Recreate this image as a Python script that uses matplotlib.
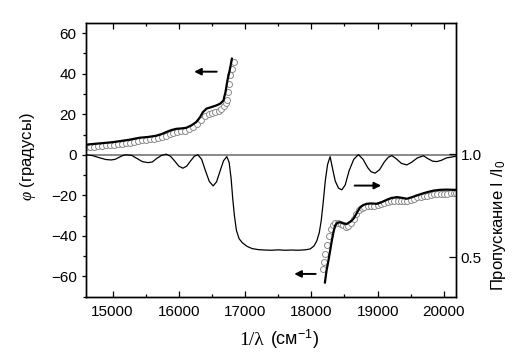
import matplotlib
matplotlib.use("Agg")
import matplotlib.pyplot as plt
from matplotlib.ticker import MultipleLocator, FixedLocator

plt.rcParams['font.family'] = ['Liberation Sans', 'DejaVu Sans']
plt.rcParams['mathtext.fontset'] = 'custom'
plt.rcParams['mathtext.rm'] = 'Liberation Sans'
plt.rcParams['mathtext.it'] = 'Liberation Serif:italic'

# transmission I/I0 (right axis)
trans_x = [14600, 14700, 14800, 14900, 14980, 15040, 15100, 15160, 15206, 15290,
           15370, 15450, 15534, 15600, 15670, 15740, 15810, 15875, 15940, 16000,
           16062, 16120, 16175, 16235, 16288, 16345, 16400, 16460, 16519, 16570,
           16620, 16675, 16725, 16760, 16790, 16815, 16840, 16870, 16910, 16960,
           17030, 17107, 17200, 17300, 17400, 17500, 17600, 17700, 17800, 17900,
           17982, 18040, 18083, 18120, 18150, 18180, 18210, 18245, 18283, 18320,
           18360, 18410, 18460, 18510, 18570, 18640, 18710, 18780, 18850, 18900,
           18962, 19030, 19100, 19160, 19214, 19280, 19360, 19440, 19510, 19600,
           19691, 19760, 19830, 19893, 19960, 20040, 20100, 20180]
trans_y = [0.997, 0.993, 0.983, 0.974, 0.972, 0.975, 0.985, 0.994, 0.997, 0.994,
           0.979, 0.964, 0.959, 0.962, 0.980, 0.994, 1.000, 0.990, 0.966, 0.942,
           0.932, 0.942, 0.966, 0.990, 0.997, 0.975, 0.922, 0.868, 0.846, 0.866,
           0.915, 0.968, 0.988, 0.960, 0.880, 0.780, 0.700, 0.630, 0.590, 0.570,
           0.553, 0.542, 0.537, 0.535, 0.534, 0.536, 0.534, 0.535, 0.534, 0.536,
           0.540, 0.555, 0.580, 0.620, 0.680, 0.770, 0.870, 0.950, 0.988, 0.930,
           0.870, 0.835, 0.827, 0.850, 0.920, 0.975, 0.998, 0.975, 0.935, 0.915,
           0.908, 0.925, 0.962, 0.985, 0.993, 0.978, 0.955, 0.948, 0.960, 0.982,
           0.992, 0.978, 0.966, 0.964, 0.970, 0.982, 0.985, 0.990]

# phase, calculated (line)
phase1_x = [14600, 14800, 15000, 15106, 15250, 15407, 15540, 15659, 15740, 15810,
            15890, 15961, 16040, 16112, 16190, 16262, 16320, 16363, 16420, 16488,
            16564, 16624, 16674, 16705, 16734, 16770, 16801]
phase1_y = [5.0, 5.6, 6.2, 6.7, 7.4, 8.4, 8.8, 9.4, 10.2, 11.2,
            12.2, 12.8, 13.0, 13.3, 14.5, 16.1, 18.5, 21.0, 22.8, 23.5,
            24.3, 25.2, 26.8, 31.0, 36.7, 42.0, 47.4]
phase2_x = [18205, 18230, 18258, 18285, 18309, 18335, 18359, 18395, 18434, 18490,
            18535, 18590, 18635, 18690, 18736, 18790, 18837, 18900, 18988, 19060,
            19139, 19210, 19290, 19360, 19440, 19510, 19591, 19660, 19742, 19840,
            19943, 20040, 20143, 20180]
phase2_y = [-63.0, -57.0, -52.2, -47.0, -42.3, -38.0, -34.9, -33.5, -33.3, -34.0,
            -34.1, -33.0, -31.6, -28.5, -25.9, -24.7, -24.2, -24.0, -24.2, -23.4,
            -22.2, -21.3, -20.9, -21.2, -21.7, -21.0, -20.1, -19.3, -18.5, -17.7,
            -17.3, -17.2, -17.3, -17.3]

# phase, measured (circles)
meas1_x = [14600, 14660, 14720, 14780, 14840, 14900, 14960, 15020, 15080, 15140,
           15200, 15260, 15320, 15380, 15440, 15500, 15560, 15620, 15680, 15740,
           15800, 15860, 15920, 15980, 16040, 16100, 16160, 16220, 16280, 16340,
           16400, 16450, 16500, 16550, 16600, 16640, 16675, 16705, 16725, 16750,
           16765, 16778, 16800, 16830]
meas1_y = [3.6, 3.8, 4.0, 4.2, 4.4, 4.6, 4.8, 5.0, 5.2, 5.4,
           5.7, 6.0, 6.4, 6.8, 7.1, 7.4, 7.6, 7.8, 8.1, 8.6,
           9.3, 10.2, 10.9, 11.4, 11.7, 11.9, 12.5, 13.6, 15.0, 17.2,
           19.0, 20.0, 20.5, 21.0, 21.8, 22.8, 24.3, 25.5, 27.0, 30.9,
           35.0, 39.2, 42.5, 45.7]
meas2_x = [18170, 18190, 18210, 18235, 18260, 18290, 18320, 18360, 18400, 18440,
           18480, 18520, 18560, 18600, 18640, 18680, 18720, 18760, 18800, 18850,
           18900, 18950, 19000, 19050, 19100, 19150, 19200, 19250, 19300, 19350,
           19400, 19450, 19500, 19550, 19600, 19650, 19700, 19750, 19800, 19850,
           19900, 19950, 20000, 20050, 20100, 20150, 20180]
meas2_y = [-56.5, -53.0, -49.0, -44.5, -40.0, -36.5, -34.5, -33.5, -33.5, -34.0,
           -34.8, -35.5, -35.0, -33.8, -31.5, -29.0, -27.3, -26.3, -25.8, -25.5,
           -25.5, -25.4, -25.0, -24.4, -23.7, -23.2, -22.8, -22.7, -22.8, -23.0,
           -23.0, -22.8, -22.3, -21.6, -21.0, -20.6, -20.4, -20.2, -19.8, -19.4,
           -19.2, -19.2, -19.3, -19.2, -19.0, -19.0, -19.0]

fig = plt.figure(figsize=(5.18, 3.60), dpi=100)
ax = fig.add_axes([0.166, 0.176, 0.714, 0.760])
ax2 = ax.twinx()

ax.axhline(0, color='#808080', lw=1.3, zorder=1)
circ = dict(ls='none', marker='o', ms=4.3, mfc='white', mec='#8a8a8a', mew=0.7)
ax.plot(meas1_x, meas1_y, **circ, zorder=2)
ax.plot(meas2_x, meas2_y, **circ, zorder=2)
ax.plot(phase1_x, phase1_y, color='black', lw=1.6, zorder=3)
ax.plot(phase2_x, phase2_y, color='black', lw=1.6, zorder=3)
ax2.plot(trans_x, trans_y, color='black', lw=0.9)

ax.set_xlim(14600, 20180)
ax.set_ylim(-70, 65)
ax2.set_ylim(0.309, 1.636)

ax.xaxis.set_major_locator(MultipleLocator(1000))
ax.xaxis.set_minor_locator(MultipleLocator(500))
ax.yaxis.set_major_locator(MultipleLocator(20))
ax.yaxis.set_minor_locator(MultipleLocator(10))
ax2.yaxis.set_major_locator(FixedLocator([0.5, 1.0]))

ax.tick_params(axis='x', which='major', direction='in', top=True, length=4.2, width=0.9, labelsize=11, pad=6)
ax.tick_params(axis='x', which='minor', direction='in', top=True, length=2.4, width=0.9)
ax.tick_params(axis='y', which='major', direction='out', right=False, length=3.2, width=0.9, labelsize=11)
ax.tick_params(axis='y', which='minor', direction='out', right=False, length=2.2, width=0.9)
ax2.tick_params(axis='y', which='major', direction='in', length=5, width=0.9, labelsize=11)

for a in (ax, ax2):
    for s in a.spines.values():
        s.set_linewidth(1.0)

# arrows
arr = dict(arrowstyle='-|>', color='black', lw=1.4, mutation_scale=10)
ax.annotate('', xy=(16190, 41), xytext=(16614, 41), arrowprops=arr)
ax.annotate('', xy=(19095, -15.2), xytext=(18611, -15.2), arrowprops=arr)
ax.annotate('', xy=(17700, -58.8), xytext=(18107, -58.8), arrowprops=arr)

# labels
fig.text(0.054, 0.564, r'$φ$ (градусы)', rotation=90, fontsize=12, ha='center', va='center')
fig.text(0.509, 0.042, '1/λ', fontsize=14, family='Liberation Serif', ha='right', va='baseline')
fig.text(0.511, 0.042, ' (см$^{-1}$)', fontsize=13, ha='left', va='baseline')
fig.text(0.962, 0.375, 'Пропускание I /I$_0$', rotation=90, fontsize=12, ha='center', va='center')

fig.savefig('out.png', dpi=100)
